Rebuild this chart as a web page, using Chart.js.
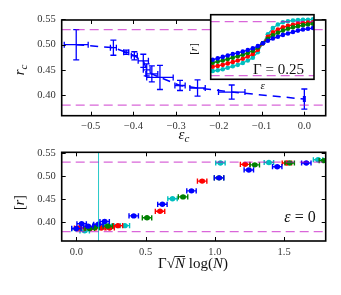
<!DOCTYPE html>
<html>
<head>
<meta charset="utf-8">
<script src="https://cdn.jsdelivr.net/npm/chart.js@4.4.1/dist/chart.umd.min.js"></script>
<style>
  body { margin: 0; background: #fff; }
  #wrap { position: relative; width: 341px; height: 295px; }
  canvas { position: absolute; }
</style>
</head>
<body>
<div id="wrap">
  <canvas id="topChart" width="341" height="145" style="left:0;top:0"></canvas>
  <canvas id="bottomChart" width="341" height="155" style="left:0;top:140px"></canvas>
  <canvas id="insetChart" width="140" height="88" style="left:180px;top:6px"></canvas>
</div>
<script>
// ---- data ----
// top panel: critical r_c vs epsilon_c
const critEps    = [-0.534, -0.447, -0.417, -0.398, -0.377, -0.369, -0.357, -0.338, -0.291, -0.250, -0.170, 0.0];
const critR      = [0.500, 0.494, 0.485, 0.478, 0.468, 0.450, 0.442, 0.435, 0.419, 0.414, 0.406, 0.392];
const critEpsErr = [0.028, 0.007, 0.006, 0.007, 0.012, 0.008, 0.014, 0.031, 0.012, 0.018, 0.031, 0.002];
const critRErr   = [0.030, 0.015, 0.004, 0.008, 0.013, 0.012, 0.016, 0.024, 0.010, 0.016, 0.014, 0.020];

// reference levels (dashed magenta)
const refLevels = [0.38, 0.53];

// inset: [r] vs epsilon, Gamma = 0.25
const insetEps   = [-0.5, -0.45, -0.4, -0.35, -0.3, -0.25, -0.2, -0.15, -0.1, -0.05, 0.0, 0.05, 0.1, 0.15, 0.2, 0.25, 0.3, 0.35, 0.4, 0.45, 0.5];
const insetBlue  = [0.424, 0.428, 0.432, 0.436, 0.440, 0.443, 0.447, 0.451, 0.456, 0.462, 0.470, 0.477, 0.483, 0.488, 0.493, 0.497, 0.501, 0.505, 0.508, 0.510, 0.512];
const insetGreen = [0.416, 0.419, 0.422, 0.426, 0.430, 0.434, 0.438, 0.443, 0.449, 0.458, 0.470, 0.482, 0.492, 0.499, 0.505, 0.510, 0.514, 0.517, 0.520, 0.522, 0.524];
const insetRed   = [0.405, 0.407, 0.410, 0.414, 0.418, 0.422, 0.427, 0.433, 0.440, 0.452, 0.470, 0.488, 0.500, 0.508, 0.514, 0.518, 0.521, 0.524, 0.526, 0.527, 0.528];
const insetCyan  = [0.393, 0.395, 0.398, 0.402, 0.406, 0.410, 0.415, 0.422, 0.430, 0.445, 0.470, 0.495, 0.512, 0.522, 0.528, 0.531, 0.533, 0.534, 0.535, 0.535, 0.536];

// bottom panel: [r] vs Gamma sqrt(N) log(N), epsilon = 0
const blueX  = [0.0, 0.038, 0.084, 0.159, 0.204, 0.414, 0.621, 0.831, 1.03, 1.245, 1.45, 1.66];
const blueY  = [0.387, 0.397, 0.392, 0.396, 0.402, 0.414, 0.439, 0.468, 0.496, 0.513, 0.520, 0.528];
const greenX = [0.096, 0.132, 0.227, 0.51, 0.77, 1.03, 1.288, 1.54, 1.787];
const greenY = [0.387, 0.389, 0.392, 0.410, 0.455, 0.496, 0.524, 0.528, 0.533];
const redX   = [0.02, 0.10, 0.18, 0.24, 0.30, 0.604, 0.908, 1.218, 1.52];
const redY   = [0.388, 0.387, 0.388, 0.388, 0.393, 0.424, 0.489, 0.525, 0.528];
const cyanX  = [0.0, 0.06, 0.156, 0.204, 0.265, 0.35, 0.694, 1.04, 1.39, 1.745];
const cyanY  = [0.386, 0.382, 0.394, 0.394, 0.393, 0.393, 0.451, 0.528, 0.529, 0.535];
const markX  = 0.16; // cyan vertical marker

// ticks
const topXTicks = [-0.5, -0.4, -0.3, -0.2, -0.1, 0.0];
const yTicks    = [0.40, 0.45, 0.50, 0.55];
const botXTicks = [0.0, 0.5, 1.0, 1.5];

// ---- styling helpers ----
const SERIF = '"Liberation Serif", "DejaVu Serif", serif';
const MAG = 'rgba(191,0,191,0.6)';
const BLUE = '#0000ff', GREEN = '#008000', RED = '#ff0000', CYAN = '#00bfbf';

Chart.defaults.animation = false;
Chart.defaults.font.family = SERIF;

const fmt = d => v => (v < 0 ? '\u2212' : '') + Math.abs(v).toFixed(d);
const pts = (xs, ys) => xs.map((x, i) => ({ x: x, y: ys[i] }));

function refLine(level, xmin, xmax) {
  return {
    data: [{ x: xmin, y: level }, { x: xmax, y: level }],
    showLine: true, pointRadius: 0, borderColor: MAG, borderWidth: 1.2,
    borderDash: [9, 5], clip: 0
  };
}

function drawRuns(ctx, runs, x, y, align, rot) {
  ctx.save();
  ctx.translate(x, y);
  if (rot) ctx.rotate(rot);
  let w = 0;
  runs.forEach(r => { ctx.font = r.f; w += ctx.measureText(r.t).width; });
  let cx = align === 'center' ? -w / 2 : align === 'right' ? -w : 0;
  ctx.fillStyle = '#111';
  ctx.textAlign = 'left';
  ctx.textBaseline = 'alphabetic';
  runs.forEach(r => {
    ctx.font = r.f;
    const tw = ctx.measureText(r.t).width;
    ctx.fillText(r.t, cx, r.dy || 0);
    if (r.over) ctx.fillRect(cx, (r.dy || 0) - r.over, tw, 0.9);
    cx += tw;
  });
  ctx.restore();
}

// frame with inward ticks on all four sides
const frame = {
  id: 'frame',
  afterDraw(chart, args, opts) {
    const { ctx, chartArea: a, scales: { x, y } } = chart;
    ctx.save();
    ctx.strokeStyle = '#000';
    if (opts.tick) {
      ctx.lineWidth = 1;
      ctx.beginPath();
      x.ticks.forEach(t => {
        const p = Math.round(x.getPixelForValue(t.value)) + 0.5;
        ctx.moveTo(p, a.bottom); ctx.lineTo(p, a.bottom - opts.tick);
        ctx.moveTo(p, a.top); ctx.lineTo(p, a.top + opts.tick);
      });
      y.ticks.forEach(t => {
        const p = Math.round(y.getPixelForValue(t.value)) + 0.5;
        ctx.moveTo(a.left, p); ctx.lineTo(a.left + opts.tick, p);
        ctx.moveTo(a.right, p); ctx.lineTo(a.right - opts.tick, p);
      });
      ctx.stroke();
    }
    ctx.lineWidth = opts.width;
    ctx.strokeRect(a.left, a.top, a.width, a.height);
    ctx.restore();
  }
};

// white background for the inset plot area
const whiteArea = {
  id: 'whiteArea',
  beforeDraw(chart) {
    const { ctx, chartArea: a } = chart;
    ctx.save();
    ctx.fillStyle = '#fff';
    ctx.fillRect(a.left, a.top, a.width, a.height);
    ctx.restore();
  }
};

// error bars, drawn per dataset so they layer with their markers
const errorBars = {
  id: 'errorBars',
  afterDatasetDraw(chart, args) {
    const ds = chart.data.datasets[args.index];
    if (!ds.errX) return;
    const { ctx, chartArea: a, scales: { x, y } } = chart;
    ctx.save();
    ctx.beginPath();
    ctx.rect(a.left, a.top, a.width, a.height);
    ctx.clip();
    ctx.strokeStyle = ds.borderColor;
    ctx.lineWidth = ds.errWidth;
    const c = ds.cap;
    ctx.beginPath();
    ds.data.forEach((p, j) => {
      const px = x.getPixelForValue(p.x), py = y.getPixelForValue(p.y);
      const x0 = x.getPixelForValue(p.x - ds.errX[j]), x1 = x.getPixelForValue(p.x + ds.errX[j]);
      const y0 = y.getPixelForValue(p.y - ds.errY[j]), y1 = y.getPixelForValue(p.y + ds.errY[j]);
      ctx.moveTo(x0, py); ctx.lineTo(x1, py);
      ctx.moveTo(px, y0); ctx.lineTo(px, y1);
      ctx.moveTo(x0, py - c); ctx.lineTo(x0, py + c);
      ctx.moveTo(x1, py - c); ctx.lineTo(x1, py + c);
      ctx.moveTo(px - c, y0); ctx.lineTo(px + c, y0);
      ctx.moveTo(px - c, y1); ctx.lineTo(px + c, y1);
    });
    ctx.stroke();
    ctx.restore();
  }
};

function labelPlugin(items, offX, offY) {
  return {
    id: 'mathLabels',
    afterDraw(chart) {
      items.forEach(it => drawRuns(chart.ctx, it.runs, it.x - offX, it.y - offY, it.align, it.rot));
    }
  };
}

const tickFont = { family: SERIF, size: 10.5 };
const noGrid = { display: false, drawTicks: false };
const baseOpts = {
  responsive: false,
  devicePixelRatio: 1,
  plugins: { legend: { display: false }, tooltip: { enabled: false } }
};

// ---- top panel ----
const topXMin = -0.568, topXMax = 0.050;
new Chart(document.getElementById('topChart'), {
  type: 'scatter',
  data: {
    datasets: [
      refLine(refLevels[0], topXMin, topXMax),
      refLine(refLevels[1], topXMin, topXMax),
      {
        data: pts(critEps, critR),
        showLine: true, borderColor: BLUE, borderWidth: 1.5, borderDash: [8, 6],
        pointRadius: 0, errX: critEpsErr, errY: critRErr, errWidth: 1.3, cap: 3
      }
    ]
  },
  options: Object.assign({}, baseOpts, {
    layout: { padding: { left: 0, top: 20, right: 15.3, bottom: 0 } },
    scales: {
      x: {
        type: 'linear', min: topXMin, max: topXMax,
        grid: noGrid, border: { display: false },
        afterBuildTicks: s => { s.ticks = topXTicks.map(v => ({ value: v })); },
        afterFit: s => { s.height = 29.3; },
        ticks: { callback: fmt(1), font: tickFont, color: '#333', padding: 4, maxRotation: 0 }
      },
      y: {
        type: 'linear', min: 0.359, max: 0.549,
        grid: noGrid, border: { display: false },
        afterBuildTicks: s => { s.ticks = yTicks.map(v => ({ value: v })); },
        afterFit: s => { s.width = 61.7; },
        ticks: { callback: fmt(2), font: tickFont, color: '#333', padding: 6 }
      }
    },
    plugins: Object.assign({}, baseOpts.plugins, { frame: { width: 1.6, tick: 4 } })
  }),
  plugins: [frame, errorBars, labelPlugin([
    { runs: [{ t: 'r', f: `italic 15px ${SERIF}` }, { t: 'c', f: `italic 11px ${SERIF}`, dy: 3 }], x: 24, y: 70, align: 'center', rot: -Math.PI / 2 },
    { runs: [{ t: '\u03b5', f: `italic 15px ${SERIF}` }, { t: 'c', f: `italic 11px ${SERIF}`, dy: 3 }], x: 184, y: 139, align: 'center' }
  ], 0, 0)]
});

// ---- bottom panel ----
const botXMin = -0.106, botXMax = 1.8;
function botSet(xs, ys, col) {
  return {
    data: pts(xs, ys), pointRadius: 2.7, pointBorderWidth: 0,
    backgroundColor: col, borderColor: col,
    errX: xs.map(() => 0.034), errY: xs.map(() => 0.002), errWidth: 1.4, cap: 2.6
  };
}
new Chart(document.getElementById('bottomChart'), {
  type: 'scatter',
  data: {
    datasets: [
      refLine(refLevels[0], botXMin, botXMax),
      refLine(refLevels[1], botXMin, botXMax),
      {
        data: [{ x: markX, y: 0.36 }, { x: markX, y: 0.551 }],
        showLine: true, pointRadius: 0, borderColor: 'rgba(0,191,191,0.85)', borderWidth: 1
      },
      botSet(blueX, blueY, BLUE),
      botSet(greenX, greenY, GREEN),
      botSet(redX, redY, RED),
      botSet(cyanX, cyanY, CYAN)
    ]
  },
  options: Object.assign({}, baseOpts, {
    layout: { padding: { left: 0, top: 5, right: 15.3, bottom: 0 } },
    scales: {
      x: {
        type: 'linear', min: botXMin, max: botXMax,
        grid: noGrid, border: { display: false },
        afterBuildTicks: s => { s.ticks = botXTicks.map(v => ({ value: v })); },
        afterFit: s => { s.height = 54; },
        ticks: { callback: fmt(1), font: tickFont, color: '#333', padding: 5, maxRotation: 0 }
      },
      y: {
        type: 'linear', min: 0.36, max: 0.551,
        grid: noGrid, border: { display: false },
        afterBuildTicks: s => { s.ticks = yTicks.map(v => ({ value: v })); },
        afterFit: s => { s.width = 61.7; },
        ticks: { callback: fmt(2), font: tickFont, color: '#333', padding: 6 }
      }
    },
    plugins: Object.assign({}, baseOpts.plugins, { frame: { width: 1.6, tick: 4 } })
  }),
  plugins: [frame, errorBars, labelPlugin([
    { runs: [{ t: '[', f: `14px ${SERIF}` }, { t: 'r', f: `italic 14px ${SERIF}` }, { t: ']', f: `14px ${SERIF}` }], x: 24, y: 202.5, align: 'center', rot: -Math.PI / 2 },
    { runs: [
        { t: '\u0393', f: `15px ${SERIF}` }, { t: '\u221a', f: `15px ${SERIF}` },
        { t: 'N', f: `italic 15px ${SERIF}`, over: 12 }, { t: ' log(', f: `15px ${SERIF}` },
        { t: 'N', f: `italic 15px ${SERIF}` }, { t: ')', f: `15px ${SERIF}` }
      ], x: 193, y: 268, align: 'center' },
    { runs: [{ t: '\u03b5', f: `italic 16px ${SERIF}` }, { t: ' = 0', f: `16px ${SERIF}` }], x: 315.7, y: 221.5, align: 'right' }
  ], 0, 140)]
});

// ---- inset ----
const insetXMin = -0.52, insetXMax = 0.51;
function insetSet(ys, col) {
  return {
    data: pts(insetEps, ys), showLine: true, borderColor: col, borderWidth: 1.3,
    pointRadius: 2.3, pointBorderWidth: 0, backgroundColor: col, clip: 0
  };
}
new Chart(document.getElementById('insetChart'), {
  type: 'scatter',
  data: {
    datasets: [
      refLine(refLevels[0], insetXMin, insetXMax),
      refLine(refLevels[1], insetXMin, insetXMax),
      insetSet(insetBlue, BLUE),
      insetSet(insetGreen, GREEN),
      insetSet(insetRed, RED),
      insetSet(insetCyan, CYAN)
    ]
  },
  options: Object.assign({}, baseOpts, {
    layout: { padding: { left: 0, top: 8.7, right: 6, bottom: 0 } },
    scales: {
      x: {
        type: 'linear', min: insetXMin, max: insetXMax,
        grid: noGrid, border: { display: false },
        ticks: { display: false },
        afterFit: s => { s.height = 14.7; }
      },
      y: {
        type: 'linear', min: 0.37, max: 0.549,
        grid: noGrid, border: { display: false },
        ticks: { display: false },
        afterFit: s => { s.width = 30.7; }
      }
    },
    plugins: Object.assign({}, baseOpts.plugins, { frame: { width: 1.6, tick: 0 } })
  }),
  plugins: [whiteArea, frame, labelPlugin([
    { runs: [{ t: '[', f: `11px ${SERIF}` }, { t: 'r', f: `italic 11px ${SERIF}` }, { t: ']', f: `11px ${SERIF}` }], x: 197, y: 49, align: 'center', rot: -Math.PI / 2 },
    { runs: [{ t: '\u03b5', f: `italic 11px ${SERIF}` }], x: 262.7, y: 89, align: 'center' },
    { runs: [{ t: '\u0393', f: `15px ${SERIF}` }, { t: ' = 0.25', f: `15px ${SERIF}` }], x: 304, y: 73.5, align: 'right' }
  ], 180, 6)]
});
</script>
</body>
</html>
